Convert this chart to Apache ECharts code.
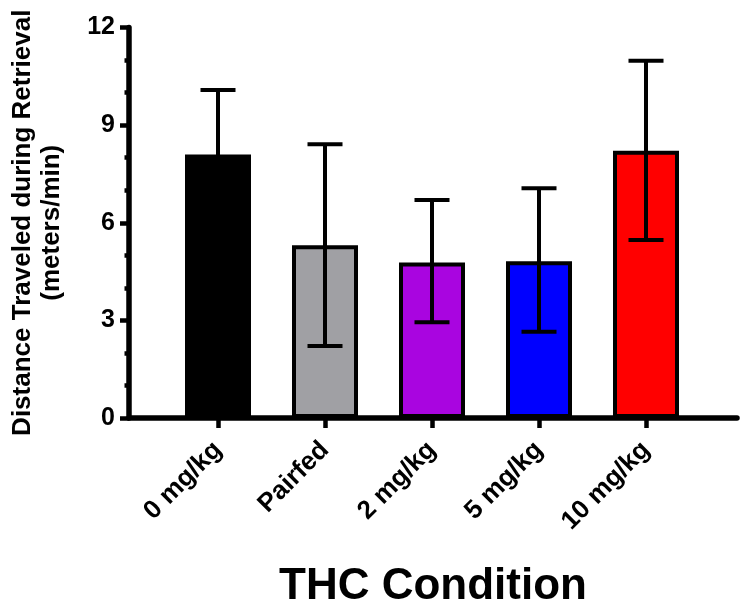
<!DOCTYPE html>
<html><head><meta charset="utf-8">
<script src="https://cdn.jsdelivr.net/npm/echarts@6/dist/echarts.min.js"></script>
<style>html,body{margin:0;padding:0;background:#fff}#c{width:744px;height:616px}</style>
</head><body><div id="c"></div>
<script>
const categories = ['0 mg/kg', 'Pairfed', '2 mg/kg', '5 mg/kg', '10 mg/kg'];
const means = [8.1, 5.31, 4.78, 4.82, 8.21];
const errLow = [6.12, 2.21, 2.94, 2.65, 5.47];
const errHigh = [10.08, 8.41, 6.70, 7.06, 10.98];
const barColors = ['#000000', '#a0a0a4', '#a905e0', '#0000ff', '#ff0000'];
const yMin = 0, yMax = 12, yInterval = 3;

const FONT = 'Liberation Sans, Arial, sans-serif';
const chart = echarts.init(document.getElementById('c'));
chart.setOption({
  animation: false,
  backgroundColor: '#ffffff',
  textStyle: { fontFamily: FONT },
  grid: [
    { left: 164.5, right: 44.5, top: 27.5, bottom: 198 },
    { left: 128, right: 7, top: 27.5, bottom: 198 }
  ],
  xAxis: [
    {
      gridIndex: 0, type: 'category', data: categories,
      axisLine: { show: false },
      axisTick: { show: true, alignWithLabel: true, length: 10, lineStyle: { width: 4.5, color: '#000' } },
      axisLabel: { rotate: 45, fontSize: 26, fontWeight: 'bold', color: '#000', margin: 28, fontFamily: FONT }
    },
    {
      gridIndex: 1, type: 'value', min: 0, max: 1,
      axisLine: { show: true, lineStyle: { width: 5.5, color: '#000' } },
      axisTick: { show: false }, axisLabel: { show: false }, splitLine: { show: false },
      name: 'THC Condition', nameLocation: 'middle', nameGap: 147,
      nameTextStyle: { fontSize: 44, fontWeight: 'bold', color: '#000', fontFamily: FONT }
    }
  ],
  yAxis: [
    { gridIndex: 0, type: 'value', min: yMin, max: yMax, show: false },
    {
      gridIndex: 1, type: 'value', min: yMin, max: yMax, interval: yInterval,
      axisLine: { show: true, lineStyle: { width: 5.5, color: '#000' } },
      axisTick: { show: true, length: 9, lineStyle: { width: 4.5, color: '#000' } },
      minorTick: { show: true, splitNumber: 3, length: 4.5, lineStyle: { width: 4.5, color: '#000' } },
      splitLine: { show: false }, minorSplitLine: { show: false },
      axisLabel: { fontSize: 25, fontWeight: 'bold', color: '#000', margin: 14, fontFamily: FONT },
      name: 'Distance Traveled during Retrieval\n(meters/min)', nameLocation: 'middle', nameRotate: 90, nameGap: 63,
      nameTextStyle: { fontSize: 26, fontWeight: 'bold', lineHeight: 29, color: '#000', fontFamily: FONT }
    }
  ],
  series: [
    {
      type: 'bar', xAxisIndex: 0, yAxisIndex: 0, barWidth: 66,
      data: means.map((v, i) => ({ value: v, itemStyle: { color: barColors[i] } })),
      itemStyle: { borderColor: '#000', borderWidth: 4 }
    },
    {
      type: 'custom', xAxisIndex: 0, yAxisIndex: 0, z: 10,
      data: categories.map((c, i) => [i, errLow[i], errHigh[i]]),
      renderItem: function (params, api) {
        const x = api.value(0);
        const lo = api.coord([x, api.value(1)]);
        const hi = api.coord([x, api.value(2)]);
        const half = 17.5;
        const st = { stroke: '#000', lineWidth: 4 };
        return {
          type: 'group', children: [
            { type: 'line', shape: { x1: hi[0], y1: hi[1], x2: lo[0], y2: lo[1] }, style: st },
            { type: 'line', shape: { x1: hi[0] - half, y1: hi[1], x2: hi[0] + half, y2: hi[1] }, style: st },
            { type: 'line', shape: { x1: lo[0] - half, y1: lo[1], x2: lo[0] + half, y2: lo[1] }, style: st }
          ]
        };
      }
    }
  ]
});
</script></body></html>
